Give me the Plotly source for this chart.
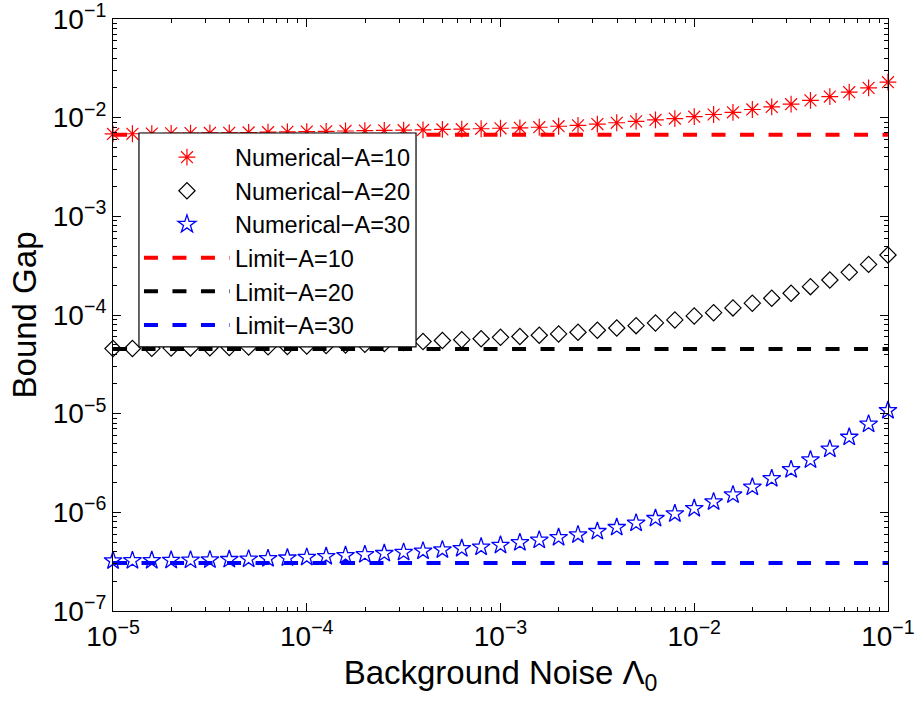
import plotly.graph_objects as go

# Background noise values (10 per decade, 1e-5 .. 1e-1)
noise = [1.000e-5, 1.259e-5, 1.585e-5, 1.995e-5, 2.512e-5, 3.162e-5, 3.981e-5, 5.012e-5, 6.310e-5, 7.943e-5,
         1.000e-4, 1.259e-4, 1.585e-4, 1.995e-4, 2.512e-4, 3.162e-4, 3.981e-4, 5.012e-4, 6.310e-4, 7.943e-4,
         1.000e-3, 1.259e-3, 1.585e-3, 1.995e-3, 2.512e-3, 3.162e-3, 3.981e-3, 5.012e-3, 6.310e-3, 7.943e-3,
         1.000e-2, 1.259e-2, 1.585e-2, 1.995e-2, 2.512e-2, 3.162e-2, 3.981e-2, 5.012e-2, 6.310e-2, 7.943e-2,
         1.000e-1]

num_A10 = [6.84e-3, 6.87e-3, 6.90e-3, 6.93e-3, 6.97e-3, 7.00e-3, 7.03e-3, 7.08e-3, 7.13e-3, 7.18e-3,
           7.23e-3, 7.28e-3, 7.33e-3, 7.39e-3, 7.44e-3, 7.47e-3, 7.51e-3, 7.60e-3, 7.65e-3, 7.72e-3,
           7.81e-3, 7.89e-3, 8.00e-3, 8.19e-3, 8.36e-3, 8.62e-3, 8.88e-3, 9.18e-3, 9.48e-3, 9.79e-3,
           1.023e-2, 1.077e-2, 1.134e-2, 1.211e-2, 1.285e-2, 1.369e-2, 1.497e-2, 1.637e-2, 1.814e-2, 2.005e-2,
           2.289e-2]

num_A20 = [4.57e-5, 4.58e-5, 4.59e-5, 4.62e-5, 4.64e-5, 4.66e-5, 4.69e-5, 4.73e-5, 4.76e-5, 4.80e-5,
           4.85e-5, 4.91e-5, 4.96e-5, 5.04e-5, 5.14e-5, 5.26e-5, 5.38e-5, 5.51e-5, 5.62e-5, 5.75e-5,
           5.94e-5, 6.05e-5, 6.24e-5, 6.43e-5, 6.69e-5, 7.01e-5, 7.39e-5, 7.80e-5, 8.31e-5, 8.91e-5,
           9.78e-5, 1.056e-4, 1.180e-4, 1.317e-4, 1.479e-4, 1.662e-4, 1.938e-4, 2.264e-4, 2.707e-4, 3.258e-4,
           4.06e-4]

num_A30 = [3.23e-7, 3.24e-7, 3.25e-7, 3.27e-7, 3.28e-7, 3.30e-7, 3.33e-7, 3.36e-7, 3.40e-7, 3.45e-7,
           3.50e-7, 3.57e-7, 3.65e-7, 3.73e-7, 3.83e-7, 3.93e-7, 4.05e-7, 4.17e-7, 4.30e-7, 4.45e-7,
           4.64e-7, 4.93e-7, 5.23e-7, 5.56e-7, 5.92e-7, 6.40e-7, 7.03e-7, 7.78e-7, 8.67e-7, 9.67e-7,
           1.094e-6, 1.278e-6, 1.504e-6, 1.800e-6, 2.195e-6, 2.712e-6, 3.40e-6, 4.37e-6, 5.78e-6, 7.84e-6,
           1.077e-5]

limit_A10 = 6.73e-3
limit_A20 = 4.51e-5
limit_A30 = 3.06e-7

x_exponents = [-5, -4, -3, -2, -1]
y_exponents = [-7, -6, -5, -4, -3, -2, -1]

FONT = "Liberation Sans, Arial, Helvetica, sans-serif"


def major_ticks(exps):
    vals = [10.0 ** e for e in exps]
    txt = ["10<sup>\u2212%d</sup>" % (-e) for e in exps]
    return vals, txt


def minor_ticks(exps):
    return [m * 10.0 ** e for e in exps[:-1] for m in range(2, 10)]


fig = go.Figure()

fig.add_trace(go.Scatter(x=noise, y=num_A10, mode="markers", name="Numerical\u2212A=10", legendgroup="a",
                         cliponaxis=False,
                         marker=dict(symbol="asterisk-open", size=14, color="#ff0000",
                                     line=dict(color="#ff0000", width=1.2))))
fig.add_trace(go.Scatter(x=noise, y=num_A20, mode="markers", name="Numerical\u2212A=20", legendgroup="b",
                         cliponaxis=False,
                         marker=dict(symbol="diamond-open", size=12.5, color="#000000",
                                     line=dict(color="#000000", width=1.2))))
fig.add_trace(go.Scatter(x=noise, y=num_A30, mode="markers", name="Numerical\u2212A=30", legendgroup="c",
                         cliponaxis=False,
                         marker=dict(symbol="star-open", size=13.5, color="#0000ff",
                                     line=dict(color="#0000ff", width=1.3))))

xends = [noise[0], noise[-1]]
for lim, col, nm, g in [(limit_A10, "#ff0000", "Limit\u2212A=10", "d"),
                        (limit_A20, "#000000", "Limit\u2212A=20", "e"),
                        (limit_A30, "#0000ff", "Limit\u2212A=30", "f")]:
    fig.add_trace(go.Scatter(x=xends, y=[lim, lim], mode="lines", name=nm, legendgroup=g,
                             line=dict(color=col, width=4, dash="14px,14.5px")))

axis_common = dict(
    type="log", showline=True, linecolor="black", linewidth=1.2, mirror="allticks",
    ticks="inside", ticklen=8, tickwidth=1, tickcolor="black",
    showgrid=False, zeroline=False, automargin=False, ticklabeloverflow="allow",
    tickfont=dict(family=FONT, size=28, color="black"),
)

xv, xt = major_ticks(x_exponents)
yv, yt = major_ticks(y_exponents)

fig.update_xaxes(**axis_common, range=[-5.0002, -0.9998], tickmode="array", tickvals=xv, ticktext=xt,
                 minor=dict(tickmode="array", tickvals=minor_ticks(x_exponents), ticks="inside",
                            ticklen=4, tickcolor="black", tickwidth=1, showgrid=False),
                 title=dict(text="Background Noise \u039B<sub>0</sub>",
                            font=dict(family=FONT, size=33, color="black"), standoff=10))
fig.update_yaxes(**axis_common, range=[-7.0002, -0.9998], tickmode="array", tickvals=yv, ticktext=yt,
                 minor=dict(tickmode="array", tickvals=minor_ticks(y_exponents), ticks="inside",
                            ticklen=4, tickcolor="black", tickwidth=1, showgrid=False),
                 title=dict(text="Bound Gap", font=dict(family=FONT, size=33, color="black"), standoff=6))

# legend frame (white box with black border) in plot-fraction coordinates
fig.add_shape(type="rect", xref="paper", yref="paper", x0=0.0335, x1=0.3910, y0=0.4460, y1=0.8074,
              fillcolor="white", line=dict(color="black", width=1.2), layer="above")

fig.update_layout(
    width=917, height=713,
    margin=dict(l=113, r=29, t=19, b=102, autoexpand=False),
    paper_bgcolor="white", plot_bgcolor="white",
    showlegend=True,
    legend=dict(x=0.0335, y=0.8034, xanchor="left", yanchor="top",
                bgcolor="rgba(0,0,0,0)", borderwidth=0,
                font=dict(family=FONT, size=23.5, color="black"),
                tracegroupgap=4.5, itemwidth=86, traceorder="normal"),
)

fig.write_html("out.html")
